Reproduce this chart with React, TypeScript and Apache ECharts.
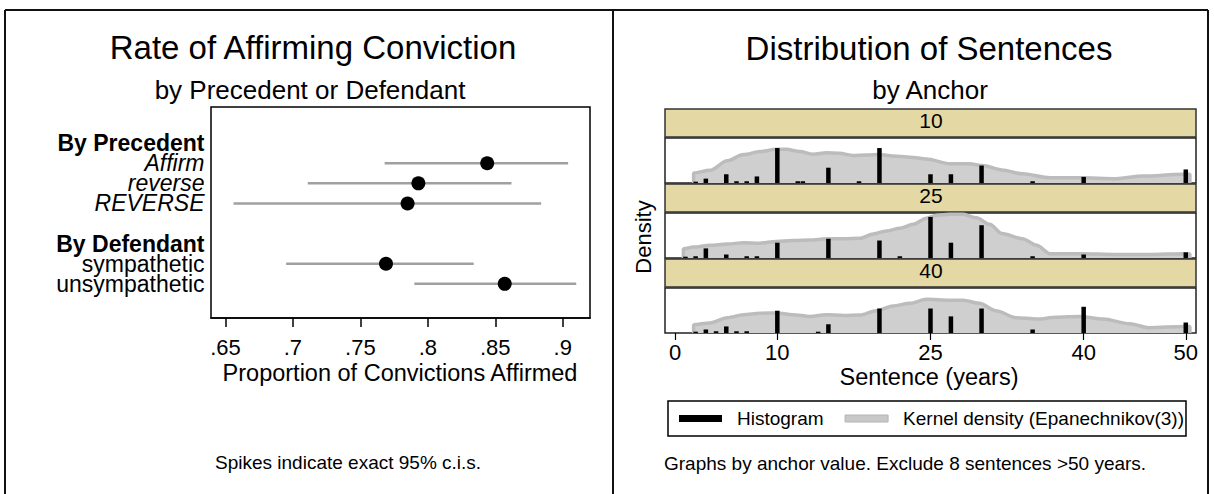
import React, { useEffect, useRef } from "react";
import * as echarts from "echarts";

const FONT = "'Liberation Sans', Arial, Helvetica, sans-serif";

// ---------- Left panel: rate of affirming conviction ----------
const rowLabels = ["By Precedent", "Affirm", "reverse", "REVERSE", "", "By Defendant", "sympathetic", "unsympathetic"];
const rowStyles = ["b", "i", "i", "i", "n", "b", "n", "n"];
const labelRows = [0, 1, 2, 3, 5, 6, 7];
const estRows = [1, 2, 3, 6, 7];
const estimates = [0.844, 0.793, 0.785, 0.769, 0.857];
const ciLow = [0.768, 0.711, 0.656, 0.695, 0.790];
const ciHigh = [0.904, 0.862, 0.884, 0.834, 0.910];
const rateTicks = [0.65, 0.7, 0.75, 0.8, 0.85, 0.9];
const RATE_MIN = 0.6393;
const RATE_MAX = 0.9202;

// ---------- Right panel: distribution of sentences ----------
const anchors = ["10", "25", "40"];
const sentenceTicks = [0, 10, 25, 40, 50];

const histYears10 = [2, 3, 5, 6, 7, 8, 10, 12, 12.5, 15, 18, 20, 25, 27, 30, 35, 40, 50];
const histDens10 = [0.03, 0.1, 0.2, 0.04, 0.04, 0.15, 0.8, 0.04, 0.04, 0.35, 0.04, 0.8, 0.2, 0.2, 0.4, 0.04, 0.14, 0.31];
const histYears25 = [1, 2, 3, 5, 7, 8, 10, 15, 20, 22, 25, 27, 30, 35, 40, 50];
const histDens25 = [0.03, 0.04, 0.22, 0.08, 0.04, 0.04, 0.35, 0.44, 0.4, 0.04, 0.94, 0.35, 0.75, 0.04, 0.08, 0.13];
const histYears40 = [2, 3, 4, 5, 6, 7, 10, 14, 15, 20, 25, 27, 30, 35, 40, 50];
const histDens40 = [0.03, 0.08, 0.04, 0.15, 0.04, 0.04, 0.51, 0.03, 0.2, 0.56, 0.56, 0.38, 0.56, 0.08, 0.6, 0.24];

const kdeX10 = [1.8, 1.8, 3.4, 5.1, 6.7, 8.3, 9.9, 10.9, 12.2, 13.5, 14.8, 16.1, 17.4, 18.7, 20, 21.3, 23, 24.6, 26.9, 28.8, 30.1, 32, 34, 36.7, 39.6, 43.2, 45.8, 49.7, 50.4, 50.4];
const kdeY10 = [0, 0.23, 0.29, 0.51, 0.65, 0.72, 0.77, 0.77, 0.72, 0.66, 0.69, 0.68, 0.63, 0.64, 0.65, 0.62, 0.59, 0.55, 0.44, 0.44, 0.4, 0.3, 0.21, 0.12, 0.12, 0.1, 0.16, 0.2, 0.2, 0];
const kdeX25 = [0.8, 0.8, 1.8, 3.4, 5.1, 6.7, 8.3, 9.9, 11.5, 13.2, 14.8, 16.5, 18.1, 19.4, 20.7, 22, 23.3, 24.6, 25.6, 26.9, 28.2, 29.5, 30.8, 32, 34, 35.4, 36.7, 39.6, 43.2, 46.4, 49.9, 50.4, 50.4];
const kdeY25 = [0, 0.21, 0.25, 0.29, 0.32, 0.35, 0.34, 0.38, 0.4, 0.41, 0.44, 0.44, 0.45, 0.55, 0.62, 0.68, 0.77, 0.91, 0.98, 1.0, 1.0, 0.92, 0.77, 0.56, 0.44, 0.29, 0.1, 0.1, 0.08, 0.08, 0.1, 0.1, 0];
const kdeX40 = [1.8, 1.8, 3.4, 5.1, 6.7, 8.3, 9.9, 11.5, 13.2, 14.8, 16.5, 18.1, 19.7, 21.3, 23, 24.6, 26.9, 28.2, 29.8, 31.4, 33.4, 35.4, 37.3, 39.6, 41.9, 44.5, 46.4, 49.9, 50.4, 50.4];
const kdeY40 = [0, 0.19, 0.23, 0.35, 0.42, 0.45, 0.46, 0.42, 0.38, 0.42, 0.4, 0.41, 0.51, 0.62, 0.68, 0.77, 0.75, 0.75, 0.68, 0.51, 0.35, 0.32, 0.36, 0.38, 0.32, 0.21, 0.12, 0.15, 0.15, 0];

const histYears = [histYears10, histYears25, histYears40];
const histDens = [histDens10, histDens25, histDens40];
const kdeXs = [kdeX10, kdeX25, kdeX40];
const kdeYs = [kdeY10, kdeY25, kdeY40];

const HIST_NAME = "Histogram";
const KDE_NAME = "Kernel density (Epanechnikov(3))";

function buildOption() {
  const PANEL_LEFT = 665;
  const PANEL_W = 531;
  const stripTop = (k: number) => 109 + 75 * k;
  const plotTop = (k: number) => 138 + 75 * k;

  const grids: any[] = [
    { left: 211, top: 107, width: 379, height: 211, show: true, borderColor: "#000", borderWidth: 1.5, backgroundColor: "#fff" },
  ];
  anchors.forEach((_, k) => {
    grids.push({ left: PANEL_LEFT, top: plotTop(k), width: PANEL_W, height: 45, show: true, borderColor: "#222", borderWidth: 1.5, backgroundColor: "#fff" });
  });

  const xAxes: any[] = [
    {
      gridIndex: 0,
      type: "value",
      position: "bottom",
      min: RATE_MIN,
      max: RATE_MAX,
      axisLine: { show: true, onZero: false, lineStyle: { color: "#000", width: 1.5 } },
      axisTick: { show: true, customValues: rateTicks, length: 9, lineStyle: { color: "#000", width: 1.5 } },
      axisLabel: {
        customValues: rateTicks,
        formatter: (v: number) => String(v).replace(/^0/, ""),
        fontSize: 22,
        color: "#000",
        margin: 18,
        fontFamily: FONT,
      },
      splitLine: { show: false },
    },
  ];
  const yAxes: any[] = [
    {
      gridIndex: 0,
      type: "value",
      min: -1.8,
      max: 8.7,
      inverse: true,
      axisLine: { show: false, onZero: false },
      axisTick: { show: false },
      axisLabel: { show: false },
      splitLine: { show: false },
    },
  ];

  anchors.forEach((_, k) => {
    const last = k === anchors.length - 1;
    xAxes.push({
      gridIndex: k + 1,
      type: "value",
      position: "bottom",
      min: -1,
      max: 51,
      axisLine: { show: false, onZero: false },
      axisTick: { show: last, customValues: sentenceTicks, length: 7, lineStyle: { color: "#000", width: 1.2 } },
      axisLabel: { show: last, customValues: sentenceTicks, fontSize: 22, color: "#000", margin: 8, fontFamily: FONT },
      splitLine: { show: false },
    });
    yAxes.push({
      gridIndex: k + 1,
      type: "value",
      min: 0,
      max: 1.03,
      show: false,
      splitLine: { show: false },
    });
  });

  const series: any[] = [
    // row labels (left of the plot box)
    {
      type: "scatter",
      xAxisIndex: 0,
      yAxisIndex: 0,
      silent: true,
      symbol: "circle",
      symbolSize: 1,
      itemStyle: { color: "rgba(255,255,255,0)", opacity: 1 },
      data: labelRows.map((r) => ({
        value: [RATE_MIN, r],
        label: { formatter: `{${rowStyles[r]}|${rowLabels[r]}}` },
      })),
      label: {
        show: true,
        position: "left",
        distance: 6,
        opacity: 1,
        color: "#000",
        lineHeight: 19,
        rich: {
          b: { fontSize: 23, fontWeight: "bold", color: "#000", fontFamily: FONT, lineHeight: 19 },
          i: { fontSize: 23, fontStyle: "italic", color: "#000", fontFamily: FONT, lineHeight: 19 },
          n: { fontSize: 23, color: "#000", fontFamily: FONT, lineHeight: 19 },
        },
      },
      labelLayout: { hideOverlap: false },
      z: 5,
    },
    {
      type: "custom",
      xAxisIndex: 0,
      yAxisIndex: 0,
      data: estRows.map((r, i) => [ciLow[i], ciHigh[i], r]),
      encode: { x: [0, 1], y: 2 },
      renderItem: (_p: any, api: any) => {
        const a = api.coord([api.value(0), api.value(2)]);
        const b = api.coord([api.value(1), api.value(2)]);
        return {
          type: "line",
          shape: { x1: a[0], y1: a[1], x2: b[0], y2: b[1] },
          style: { stroke: "#a0a0a0", lineWidth: 2.5 },
        };
      },
      z: 2,
    },
    {
      type: "scatter",
      xAxisIndex: 0,
      yAxisIndex: 0,
      data: estimates.map((e, i) => [e, estRows[i]]),
      symbol: "circle",
      symbolSize: 14,
      itemStyle: { color: "#000", opacity: 1 },
      z: 3,
    },
  ];

  anchors.forEach((_, k) => {
    series.push({
      type: "line",
      name: KDE_NAME,
      xAxisIndex: k + 1,
      yAxisIndex: k + 1,
      data: kdeXs[k].map((x, j) => [x, kdeYs[k][j]]),
      smooth: 0.3,
      smoothMonotone: "x",
      showSymbol: false,
      symbol: "none",
      lineStyle: { color: "#bcbcbc", width: 3.5 },
      areaStyle: { color: "#cfcfcf", opacity: 1 },
      itemStyle: { color: "#c8c8c8" },
      z: 2,
    });
    series.push({
      type: "bar",
      name: HIST_NAME,
      xAxisIndex: k + 1,
      yAxisIndex: k + 1,
      data: histYears[k].map((x, j) => [x, histDens[k][j]]),
      barWidth: 4.5,
      itemStyle: { color: "#000" },
      z: 3,
    });
  });

  const txt = (text: string, x: number, y: number, fontSize: number, align = "center", extra: any = {}) => ({
    type: "text",
    x,
    y,
    silent: true,
    ...extra,
    style: {
      text,
      fontSize,
      fontFamily: FONT,
      fill: "#000",
      align,
      verticalAlign: "middle",
      textAlign: align,
      textVerticalAlign: "middle",
    },
  });

  const graphic: any[] = [
    // outer frames
    { type: "line", shape: { x1: 5, y1: 10, x2: 1208, y2: 10 }, style: { stroke: "#111", lineWidth: 2 } },
    { type: "line", shape: { x1: 5, y1: 10, x2: 5, y2: 494 }, style: { stroke: "#111", lineWidth: 2 } },
    { type: "line", shape: { x1: 613, y1: 10, x2: 613, y2: 494 }, style: { stroke: "#111", lineWidth: 2 } },
    { type: "line", shape: { x1: 1208, y1: 10, x2: 1208, y2: 494 }, style: { stroke: "#111", lineWidth: 2 } },
    // left panel texts
    txt("Rate of Affirming Conviction", 313, 47, 33),
    txt("by Precedent or Defendant", 310, 90, 26),
    txt("Proportion of Convictions Affirmed", 400, 373, 23.5),
    txt("Spikes indicate exact 95% c.i.s.", 215, 462, 19, "left"),
    // right panel texts
    txt("Distribution of Sentences", 929, 48, 33),
    txt("by Anchor", 930, 90, 26),
    txt("Density", 643, 237, 22, "center", { rotation: Math.PI / 2 }),
    txt("Sentence (years)", 929, 377, 23.5),
    txt("Graphs by anchor value. Exclude 8 sentences >50 years.", 664, 463, 19, "left"),
  ];
  anchors.forEach((a, k) => {
    graphic.push({
      type: "rect",
      shape: { x: PANEL_LEFT, y: stripTop(k), width: PANEL_W, height: 28 },
      style: { fill: "#e4d8a5", stroke: "#333", lineWidth: 1.5 },
      silent: true,
    });
    graphic.push(txt(a, 931, stripTop(k) + 11.5, 21));
  });

  return {
    animation: false,
    backgroundColor: "#fff",
    textStyle: { fontFamily: FONT },
    grid: grids,
    xAxis: xAxes,
    yAxis: yAxes,
    series,
    legend: {
      left: 668,
      top: 401,
      orient: "horizontal",
      selectedMode: false,
      itemWidth: 43,
      itemHeight: 7,
      itemGap: 21,
      padding: [8, 2, 8, 11],
      borderColor: "#000",
      borderWidth: 1.5,
      backgroundColor: "#fff",
      textStyle: { fontSize: 19, fontFamily: FONT, color: "#000", padding: [0, 0, 0, 10] },
      data: [
        { name: HIST_NAME, icon: "rect", itemStyle: { color: "#000", borderWidth: 0 } },
        { name: KDE_NAME, icon: "rect", itemStyle: { color: "#c8c8c8", borderColor: "#b4b4b4", borderWidth: 1 } },
      ],
    },
    graphic,
  };
}

export default function App() {
  const ref = useRef<HTMLDivElement>(null);
  useEffect(() => {
    if (!ref.current) return;
    const chart = echarts.init(ref.current, null, { renderer: "svg" });
    chart.setOption(buildOption() as any);
    return () => chart.dispose();
  }, []);
  return (
    <div
      ref={ref}
      style={{ position: "fixed", left: 0, top: 0, width: 1214, height: 494, background: "#fff" }}
    />
  );
}
